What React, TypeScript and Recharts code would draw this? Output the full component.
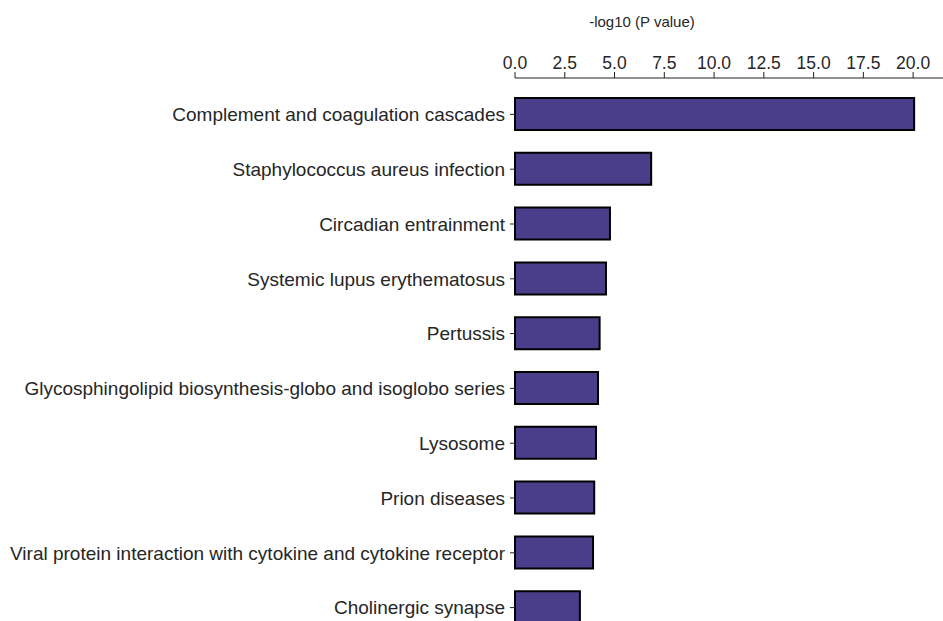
import { BarChart, Bar, XAxis, YAxis } from "recharts"

// KEGG pathways, top to bottom
const pathways = [
  "Complement and coagulation cascades",
  "Staphylococcus aureus infection",
  "Circadian entrainment",
  "Systemic lupus erythematosus",
  "Pertussis",
  "Glycosphingolipid biosynthesis-globo and isoglobo series",
  "Lysosome",
  "Prion diseases",
  "Viral protein interaction with cytokine and cytokine receptor",
  "Cholinergic synapse",
]

// -log10(P) for each pathway
const negLogP = [20.05, 6.84, 4.77, 4.57, 4.25, 4.17, 4.07, 3.98, 3.92, 3.26]

const xTicks = [0, 2.5, 5, 7.5, 10, 12.5, 15, 17.5, 20]

const data = pathways.map((name, i) => ({ name, value: negLogP[i] }))

const FONT = "'Liberation Sans', Arial, Helvetica, sans-serif"
const TEXT = "#262626"

export default function App() {
  return (
    <div
      style={{
        position: "absolute",
        left: 0,
        top: 0,
        width: 943,
        height: 621,
        overflow: "hidden",
        background: "#fff",
        fontFamily: FONT,
      }}
    >
      <div
        style={{
          position: "absolute",
          left: 515,
          width: 254,
          top: 13,
          textAlign: "center",
          fontSize: 15,
          color: TEXT,
        }}
      >
        -log10 (P value)
      </div>
      <BarChart
        layout="vertical"
        width={943}
        height={635}
        data={data}
        margin={{ top: 36, right: 0, bottom: 0, left: 0 }}
      >
        <XAxis
          type="number"
          orientation="top"
          domain={[0, 21.5]}
          ticks={xTicks}
          tickFormatter={(v: number) => v.toFixed(1)}
          height={42}
          tickSize={6}
          tickMargin={3}
          stroke="#222"
          tick={{ fill: TEXT, fontSize: 17.5, fontFamily: FONT }}
        />
        <YAxis
          type="category"
          dataKey="name"
          width={515}
          axisLine={false}
          tickSize={5}
          tickMargin={5}
          interval={0}
          padding={{ top: 9, bottom: 0 }}
          stroke="#222"
          tick={{ fill: TEXT, fontSize: 19, fontFamily: FONT }}
        />
        <Bar
          dataKey="value"
          fill="#4a3e8a"
          stroke="#000"
          strokeWidth={2}
          barSize={32}
          isAnimationActive={false}
        />
      </BarChart>
    </div>
  )
}
